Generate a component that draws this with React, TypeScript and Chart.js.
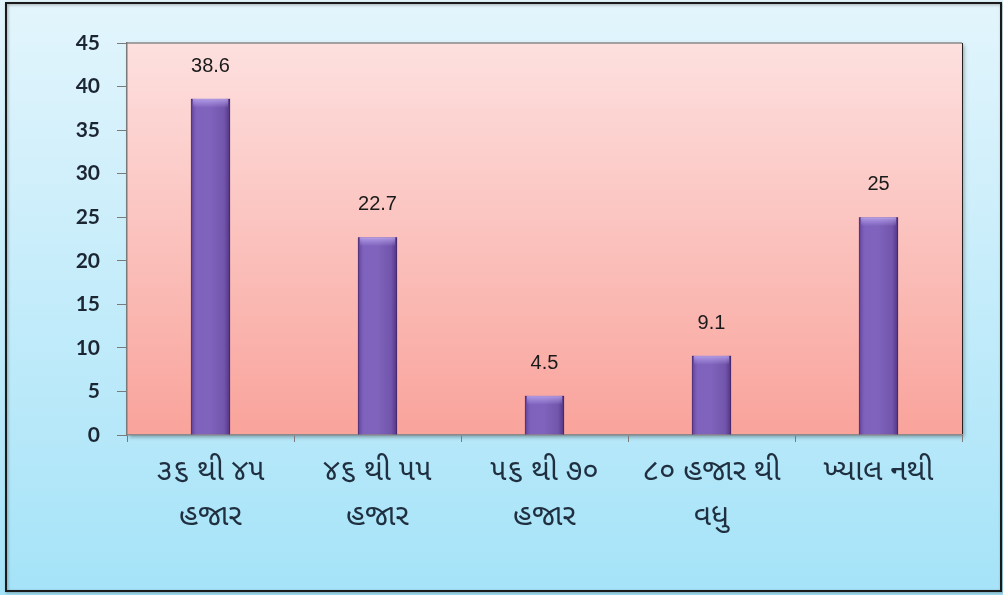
import React, { useEffect, useRef } from "react";
import { Chart, registerables } from "chart.js";

Chart.register(...registerables);

const categories: string[][] = [
  ["૩૬ થી ૪૫", "હજાર"],
  ["૪૬ થી ૫૫", "હજાર"],
  ["૫૬ થી ૭૦", "હજાર"],
  ["૮૦ હજાર થી", "વધુ"],
  ["ખ્યાલ નથી"],
];
const values: number[] = [38.6, 22.7, 4.5, 9.1, 25];
const valueLabels: string[] = ["38.6", "22.7", "4.5", "9.1", "25"];
const yMin = 0;
const yMax = 45;
const yStep = 5;

const W = 1003;
const H = 595;

const backgroundPlugin = {
  id: "bgPlugin",
  beforeDraw(chart: any) {
    const { ctx, chartArea } = chart;
    ctx.save();
    const g = ctx.createLinearGradient(0, 0, 0, H);
    g.addColorStop(0, "#e3f5fc");
    g.addColorStop(1, "#a5e3f8");
    ctx.fillStyle = g;
    ctx.fillRect(0, 0, W, H);
    ctx.shadowColor = "rgba(0,0,0,0.35)";
    ctx.shadowBlur = 3;
    ctx.shadowOffsetX = 1;
    ctx.shadowOffsetY = 1;
    ctx.strokeStyle = "#1a1a1a";
    ctx.lineWidth = 2;
    ctx.strokeRect(6, 3, 995, 588);
    ctx.restore();

    const { left, top, right, bottom } = chartArea;
    ctx.save();
    ctx.shadowColor = "rgba(0,0,0,0.35)";
    ctx.shadowBlur = 4;
    ctx.shadowOffsetX = 2;
    ctx.shadowOffsetY = 2;
    const pg = ctx.createLinearGradient(0, top, 0, bottom);
    pg.addColorStop(0, "#fde0df");
    pg.addColorStop(1, "#f9a39b");
    ctx.fillStyle = pg;
    ctx.fillRect(left, top, right - left, bottom - top);
    ctx.restore();
    ctx.save();
    ctx.strokeStyle = "#8a8a8a";
    ctx.lineWidth = 1.5;
    ctx.beginPath();
    ctx.moveTo(left, top);
    ctx.lineTo(right, top);
    ctx.stroke();
    ctx.strokeStyle = "#222";
    ctx.lineWidth = 1;
    ctx.beginPath();
    ctx.moveTo(right + 0.5, top);
    ctx.lineTo(right + 0.5, bottom + 6);
    ctx.stroke();
    ctx.restore();
  },
};

const barShadePlugin = {
  id: "barShade",
  afterDatasetsDraw(chart: any) {
    const { ctx } = chart;
    const meta = chart.getDatasetMeta(0);
    ctx.save();
    meta.data.forEach((bar: any, i: number) => {
      const x0 = bar.x - bar.width / 2;
      const x1 = bar.x + bar.width / 2;
      const yTop = bar.y;
      const yBot = bar.base;
      const g = ctx.createLinearGradient(x0, 0, x1, 0);
      g.addColorStop(0, "rgba(60,30,110,0.55)");
      g.addColorStop(0.15, "rgba(140,110,210,0.25)");
      g.addColorStop(0.5, "rgba(150,125,220,0.15)");
      g.addColorStop(0.85, "rgba(60,30,110,0.15)");
      g.addColorStop(1, "rgba(50,20,90,0.6)");
      ctx.fillStyle = g;
      ctx.fillRect(x0, yTop, x1 - x0, yBot - yTop);
      const th = Math.min(9, yBot - yTop);
      const tg = ctx.createLinearGradient(0, yTop, 0, yTop + th);
      tg.addColorStop(0, "rgba(195,175,245,0.75)");
      tg.addColorStop(1, "rgba(195,175,245,0)");
      ctx.fillStyle = tg;
      ctx.fillRect(x0 + 2, yTop, x1 - x0 - 4, th);
      ctx.fillStyle = "#1a1a1a";
      ctx.font = "20px 'Liberation Sans', Arial, sans-serif";
      ctx.textAlign = "center";
      ctx.textBaseline = "alphabetic";
      ctx.fillText(valueLabels[i], bar.x, yTop - 27);
    });
    ctx.restore();
  },
};

export default function App() {
  const ref = useRef<HTMLCanvasElement | null>(null);
  useEffect(() => {
    document.body.style.margin = "0";
    const canvas = ref.current;
    if (!canvas) return;
    const chart = new Chart(canvas, {
      type: "bar",
      data: {
        labels: categories as any,
        datasets: [
          {
            data: values,
            backgroundColor: "#7b5eb6",
            borderColor: "#4a2f7a",
            borderWidth: 1,
            categoryPercentage: 1,
            barPercentage: 0.235,
          },
        ],
      },
      options: {
        animation: false,
        responsive: false,
        devicePixelRatio: 1,
        layout: { padding: { left: 0, top: 43, right: 41, bottom: 0 } },
        plugins: {
          legend: { display: false },
          tooltip: { enabled: false },
          title: { display: false },
        },
        scales: {
          x: {
            afterFit(scale: any) {
              scale.height = 160;
            },
            grid: {
              display: true,
              drawOnChartArea: false,
              drawTicks: true,
              tickLength: 7,
              color: "#7a7a7a",
              offset: true,
            },
            border: { display: true, color: "#8a8a8a", width: 1.5 },
            ticks: {
              color: "#1f2f3f",
              font: { family: "'Noto Sans Gujarati', 'Noto Sans', sans-serif", size: 30, lineHeight: 1.5 },
              padding: 10,
              maxRotation: 0,
              autoSkip: false,
            },
          },
          y: {
            min: yMin,
            max: yMax,
            afterFit(scale: any) {
              scale.width = 127;
            },
            grid: {
              display: true,
              drawOnChartArea: false,
              drawTicks: true,
              tickLength: 10,
              color: "#7a7a7a",
            },
            border: { display: true, color: "#7a7a7a", width: 1.5 },
            ticks: {
              stepSize: yStep,
              color: "#1c2633",
              padding: 17,
              font: { family: "Lato, 'Open Sans', sans-serif", size: 21, weight: "bold" },
            },
          },
        },
      },
      plugins: [backgroundPlugin, barShadePlugin],
    });
    return () => chart.destroy();
  }, []);
  return (
    <div style={{ position: "absolute", left: 0, top: 0, width: W, height: H }}>
      <canvas ref={ref} width={W} height={H} style={{ width: W, height: H, display: "block" }} />
    </div>
  );
}
